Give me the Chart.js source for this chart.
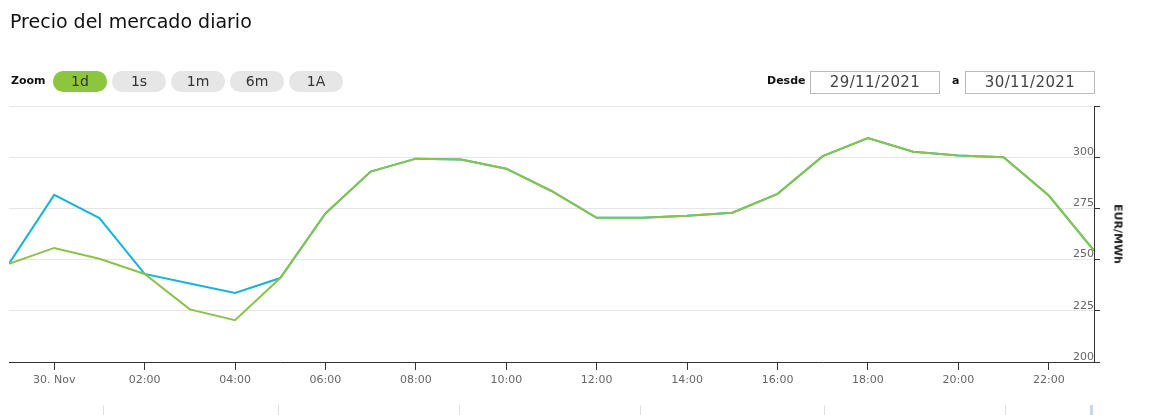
<!DOCTYPE html>
<html>
<head>
<meta charset="utf-8">
<script src="https://cdn.jsdelivr.net/npm/chart.js@4/dist/chart.umd.min.js"></script>
<style>
    body { margin: 0; background: #fff; font-family: "DejaVu Sans", sans-serif; color: #333; }
    .wrap { position: relative; width: 1158px; height: 415px; overflow: hidden; }
    #chart { position: absolute; left: 0; top: 0; }
    .title { position: absolute; left: 10px; top: 10px; font-size: 19px; color: #111; }
    .zoom-label { position: absolute; left: 11px; top: 74px; font-size: 11px; font-weight: bold; color: #111; }
    .btn { position: absolute; top: 71px; width: 54px; height: 21px; border-radius: 10px; background: #e6e6e6;
           font-size: 14px; line-height: 21px; text-align: center; color: #333; }
    .btn.active { background: #8cc63f; }
    .lbl { position: absolute; top: 74px; font-size: 11px; font-weight: bold; color: #111; }
    .date { position: absolute; top: 71px; width: 128px; height: 21px; border: 1px solid #bbb;
            font-size: 15px; line-height: 21px; text-align: center; color: #444; letter-spacing: 0.4px; }
    .ytitle { position: absolute; left: 1118px; top: 234px; font-size: 11px; font-weight: bold; color: #222;
              transform: translate(-50%, -50%) rotate(90deg); white-space: nowrap; }
    .nav { position: absolute; top: 405px; width: 1px; height: 10px; background: #e0e0e0; }
</style>
</head>
<body>
<div class="wrap">
    <canvas id="chart" width="1158" height="415"></canvas>
    <div class="title">Precio del mercado diario</div>
    <div class="zoom-label">Zoom</div>
    <div class="btn active" style="left:53px">1d</div>
    <div class="btn" style="left:112px">1s</div>
    <div class="btn" style="left:171px">1m</div>
    <div class="btn" style="left:230px">6m</div>
    <div class="btn" style="left:289px">1A</div>
    <div class="lbl" style="left:767px">Desde</div>
    <div class="date" style="left:810px">29/11/2021</div>
    <div class="lbl" style="left:952px">a</div>
    <div class="date" style="left:965px">30/11/2021</div>
    <div class="ytitle">EUR/MWh</div>
    <div class="nav" style="left:103px"></div>
    <div class="nav" style="left:278px"></div>
    <div class="nav" style="left:459px"></div>
    <div class="nav" style="left:640px"></div>
    <div class="nav" style="left:824px"></div>
    <div class="nav" style="left:1005px"></div>
    <div class="nav" style="left:1090px; width:3px; background:#ccd6eb"></div>
</div>
<script>
// hours relative to 30/11/2021 00:00 (-1 = 23:00 of 29/11)
const hours = [-1, 0, 1, 2, 3, 4, 5, 6, 7, 8, 9, 10, 11, 12, 13, 14, 15, 16, 17, 18, 19, 20, 21, 22, 23];

const priceGreen = [248.0, 255.7, 250.4, 243.0, 225.7, 220.4, 241.0, 272.5, 293.0, 299.3, 298.9, 294.4, 283.5,
    270.4, 270.4, 271.4, 272.9, 282.1, 300.5, 309.4, 302.7, 300.8, 300.0, 281.3, 254.4];
const priceBlue = [248.0, 281.6, 270.3, 243.0, 238.3, 233.7, 241.0, 272.5, 293.0, 299.3, 298.9, 294.4, 283.5,
    270.4, 270.4, 271.4, 272.9, 282.1, 300.5, 309.4, 302.7, 300.8, 300.0, 281.3, 254.4];

const xTicks = [0, 2, 4, 6, 8, 10, 12, 14, 16, 18, 20, 22];
const xTickLabels = ['30. Nov', '02:00', '04:00', '06:00', '08:00', '10:00', '12:00', '14:00', '16:00', '18:00', '20:00', '22:00'];
const yTicks = [200, 225, 250, 275, 300, 325];
const yTickLabels = ['200', '225', '250', '275', '300', ''];

function toPoints(values) {
    return hours.map((h, i) => ({ x: h, y: values[i] }));
}

const ctx = document.getElementById('chart');

new Chart(ctx, {
    type: 'line',
    data: {
        datasets: [{
            label: 'Precio',
            data: toPoints(priceGreen),
            borderColor: '#8bc34a',
            borderWidth: 2,
            pointRadius: 0,
            tension: 0,
            order: 0
        }, {
            label: 'Precio 2',
            data: toPoints(priceBlue),
            borderColor: '#1ab3d8',
            borderWidth: 2,
            pointRadius: 0,
            tension: 0,
            order: 1
        }]
    },
    options: {
        responsive: false,
        animation: false,
        devicePixelRatio: 1,
        layout: {
            padding: { left: 9, top: 106, right: 54, bottom: 23 }
        },
        plugins: {
            legend: { display: false },
            tooltip: { enabled: false }
        },
        scales: {
            x: {
                type: 'linear',
                min: -1,
                max: 23,
                afterBuildTicks: function(scale) {
                    scale.ticks = xTicks.map(v => ({ value: v }));
                },
                afterFit: function(scale) {
                    scale.height = 30;
                },
                grid: {
                    drawOnChartArea: false,
                    drawTicks: true,
                    tickLength: 8,
                    tickColor: '#333'
                },
                border: { display: true, color: '#333', width: 1 },
                ticks: {
                    autoSkip: false,
                    maxRotation: 0,
                    padding: 4,
                    color: '#666',
                    font: { family: 'DejaVu Sans', size: 11 },
                    callback: function(value) {
                        return xTickLabels[xTicks.indexOf(value)];
                    }
                }
            },
            y: {
                position: 'right',
                min: 200,
                max: 325,
                afterBuildTicks: function(scale) {
                    scale.ticks = yTicks.map(v => ({ value: v }));
                },
                afterFit: function(scale) {
                    scale.width = 10;
                },
                grid: {
                    color: '#e6e6e6',
                    lineWidth: 1,
                    drawTicks: true,
                    tickLength: 6,
                    tickColor: '#333'
                },
                border: { display: true, color: '#333', width: 1 },
                ticks: {
                    mirror: true,
                    padding: 0,
                    labelOffset: -5,
                    color: '#666',
                    font: { family: 'DejaVu Sans', size: 11 },
                    callback: function(value) {
                        return yTickLabels[yTicks.indexOf(value)];
                    }
                }
            }
        }
    }
});
</script>
</body>
</html>
